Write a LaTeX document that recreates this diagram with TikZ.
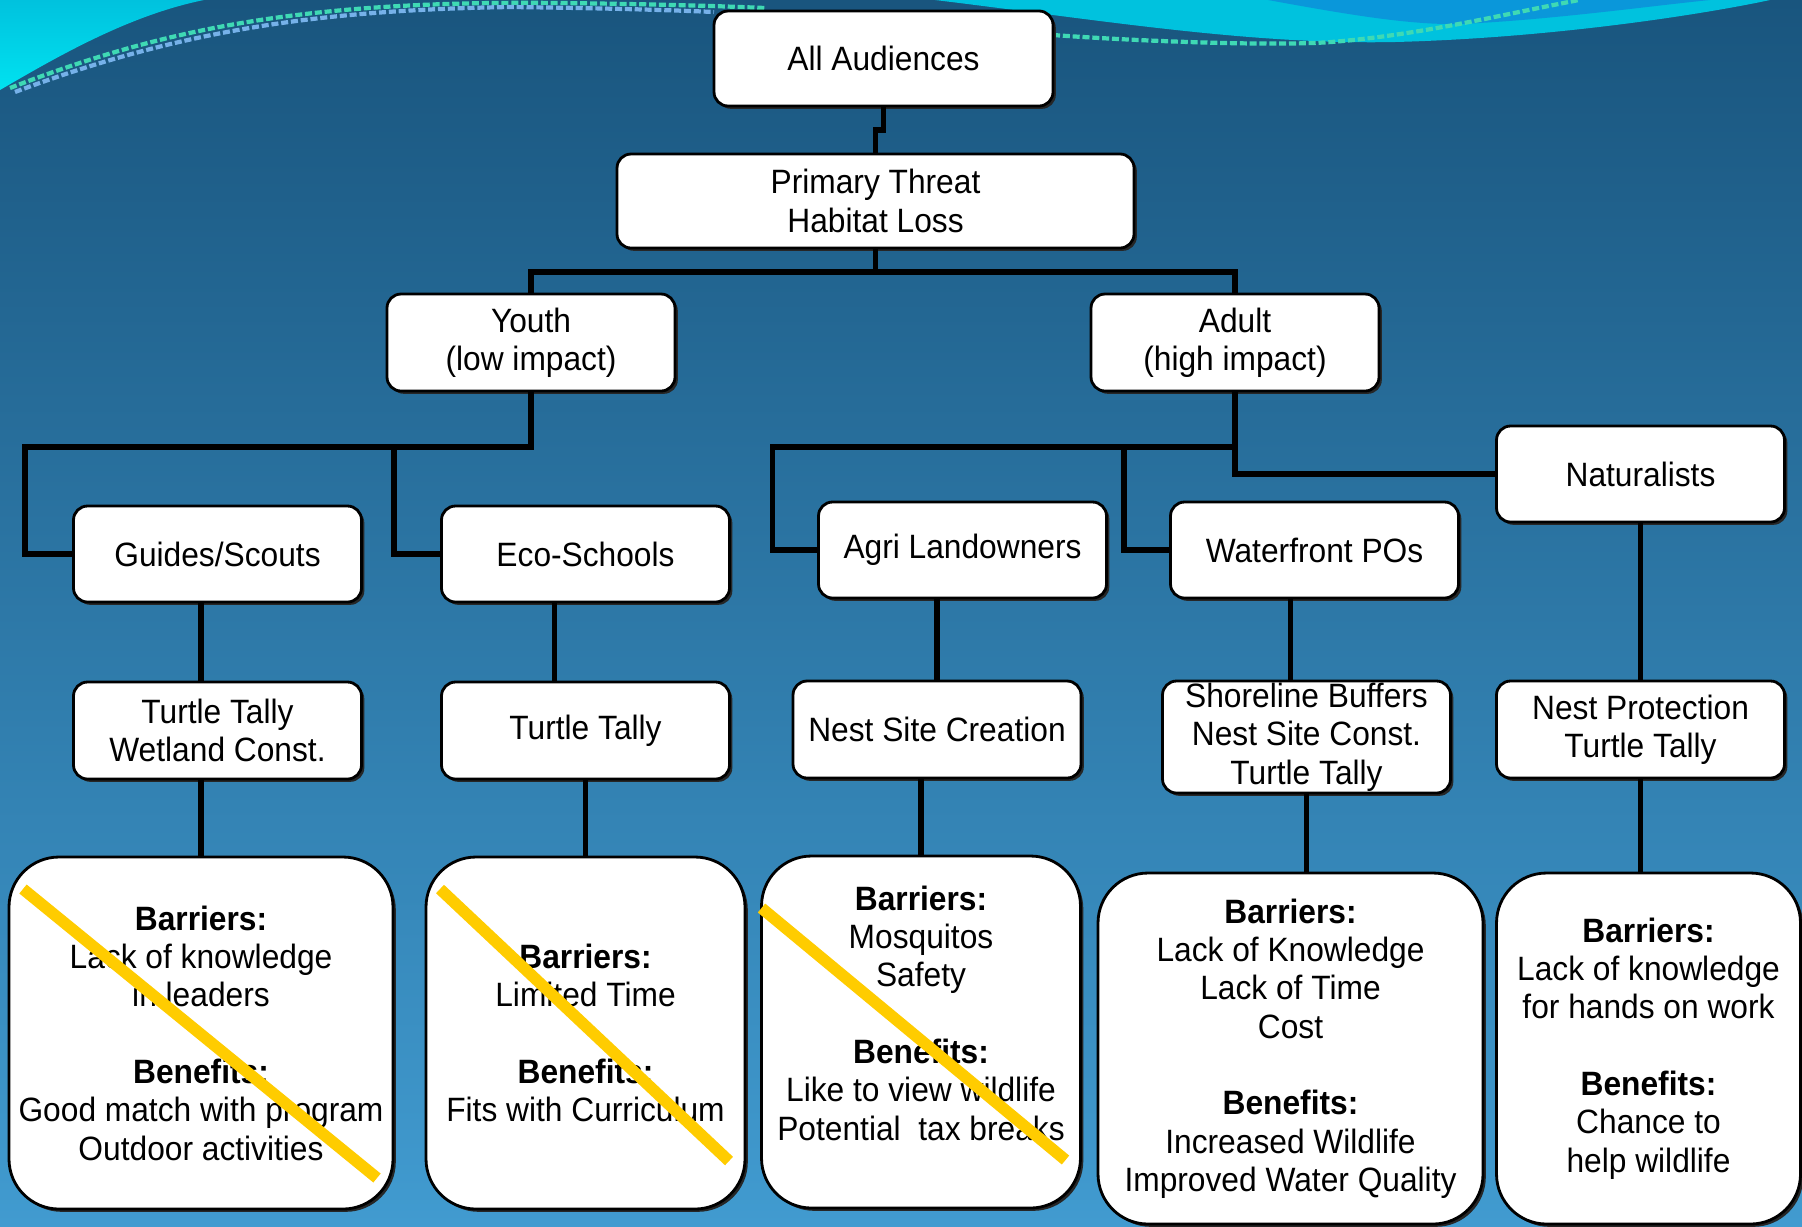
\documentclass[tikz,border=0pt]{standalone}
\usepackage{fontspec}
\setmainfont{Liberation Sans}[FakeStretch=0.94]
\usetikzlibrary{positioning, shadows}
\definecolor{bgtop}{HTML}{19557E}
\definecolor{bgbottom}{HTML}{419BD0}
\definecolor{wave}{HTML}{00C2DE}
\definecolor{wavebright}{HTML}{00E2F0}
\definecolor{wavedeep}{HTML}{0A97DA}
\definecolor{streak}{HTML}{3FD9B4}
\definecolor{streakblue}{HTML}{3B8FE0}
\definecolor{crossout}{HTML}{FFCC00}

\begin{document}
\begin{tikzpicture}[
    font=\fontsize{9.6}{10.9}\selectfont,
    box/.style={rectangle, rounded corners=0.14cm, draw=black, line width=0.8pt, fill=white, minimum width=2.88cm, minimum height=0.96cm, inner sep=1pt, outer sep=0pt, align=center, drop shadow={shadow xshift=0.8pt, shadow yshift=-0.8pt, fill=black!85, opacity=1}},
    bigbox/.style={box, rounded corners=0.5cm, minimum height=3.52cm},
    link/.style={line width=1.6pt, black},
    strike/.style={line width=3.3pt, crossout}
]

% Background
\useasboundingbox (0,0) rectangle (18.02,-12.26);
\shade[top color=bgtop, bottom color=bgbottom] (0,0) rectangle (18.02,-12.26);
\shade[bottom color=wavebright, top color=wave] (0,0) -- (0,-0.9) .. controls (0.6,-0.55) and (1.3,-0.15) .. (2.04,0) -- cycle;
\fill[wave] (9.35,0) .. controls (11,-0.2) and (12.5,-0.45) .. (13.95,-0.42) .. controls (15.5,-0.38) and (17,-0.15) .. (17.7,0) -- cycle;
\fill[wavedeep] (12.68,0) .. controls (13.5,-0.15) and (14.1,-0.25) .. (14.6,-0.24) .. controls (15.5,-0.2) and (16.5,-0.06) .. (17.1,0) -- cycle;
\draw[streak, line width=1.2pt, dash pattern=on 2pt off 0.8pt] (0.1,-0.88) .. controls (1.6,-0.3) and (3,0) .. (5.6,-0.03) .. controls (6.5,-0.04) and (7.2,-0.06) .. (7.65,-0.08);
\draw[streakblue!70!white, line width=1.2pt, dash pattern=on 2pt off 0.8pt] (0.15,-0.92) .. controls (1.8,-0.3) and (3.2,-0.1) .. (5.1,-0.07) .. controls (6,-0.08) and (6.7,-0.1) .. (7.14,-0.12);
\draw[streak, line width=1.2pt, dash pattern=on 2pt off 0.8pt] (10.53,-0.35) .. controls (11.5,-0.42) and (12.8,-0.46) .. (13.31,-0.42) .. controls (14.2,-0.35) and (15,-0.15) .. (15.79,0);

% Top levels
\node[box, minimum width=3.39cm, minimum height=0.95cm] (aa) at (8.835,-0.585) {All Audiences};
\node[box, minimum width=5.17cm, minimum height=0.94cm, below=0.48cm of aa, xshift=-0.08cm] (pt) {Primary Threat\\Habitat Loss};
\node[box, minimum height=0.97cm, below=0.46cm of pt, xshift=-3.445cm] (youth) {Youth\\(low impact)};
\node[box, minimum height=0.97cm, right=4.16cm of youth] (adult) {Adult\\(high impact)};

% Audiences
\node[box, below=1.15cm of youth, xshift=-3.135cm] (gs) {Guides/Scouts};
\node[box, right=0.8cm of gs] (eco) {Eco-Schools};
\node[box, below=1.11cm of adult, xshift=-2.725cm] (agri) {Agri Landowners};
\node[box, right=0.64cm of agri] (wpo) {Waterfront POs};
\node[box, below=0.35cm of adult, xshift=4.055cm] (nat) {Naturalists};

% Actions
\node[box, minimum height=0.97cm, below=0.8cm of gs] (ttw) {Turtle Tally\\Wetland Const.};
\node[box, minimum height=0.97cm, below=0.8cm of eco] (tt) {Turtle Tally};
\node[box, minimum height=0.97cm, below=0.83cm of agri, xshift=-0.255cm] (nsc) {Nest Site Creation};
\node[box, minimum height=1.12cm, inner ysep=-1pt, below=0.83cm of wpo, xshift=-0.08cm] (sb) {Shoreline Buffers\\Nest Site Const.\\Turtle Tally};
\node[box, minimum height=0.97cm, below=1.59cm of nat] (npt) {Nest Protection\\Turtle Tally};

% Barriers and benefits
\node[bigbox, minimum width=3.84cm, below=0.78cm of ttw, xshift=-0.165cm] (b1) {\textbf{Barriers:}\\Lack of knowledge\\in leaders\\[10.9pt]\textbf{Benefits:}\\Good match with program\\Outdoor activities};
\node[bigbox, minimum width=3.19cm, below=0.78cm of tt] (b2) {\textbf{Barriers:}\\Limited Time\\[10.9pt]\textbf{Benefits:}\\Fits with Curriculum};
\node[bigbox, minimum width=3.19cm, below=0.78cm of nsc, xshift=-0.16cm] (b3) {\textbf{Barriers:}\\Mosquitos\\Safety\\[10.9pt]\textbf{Benefits:}\\Like to view wildlife\\Potential~ tax breaks\\};
\node[bigbox, minimum width=3.85cm, minimum height=3.51cm, below=0.8cm of sb, xshift=-0.16cm] (b4) {\textbf{Barriers:}\\Lack of Knowledge\\Lack of Time\\Cost\\[10.9pt]\textbf{Benefits:}\\Increased Wildlife\\Improved Water Quality};
\node[bigbox, minimum width=3.04cm, minimum height=3.51cm, below=0.95cm of npt, xshift=0.08cm] (b5) {\textbf{Barriers:}\\Lack of knowledge\\for hands on work\\[10.9pt]\textbf{Benefits:}\\Chance to\\help wildlife};

% Links
\draw[link] (aa.south) -- ++(0,-0.24) -| (pt.north);
\draw[link] (pt.south) -- ++(0,-0.24) -| (youth.north);
\draw[link] (pt.south) -- ++(0,-0.24) -| (adult.north);

\draw[link] (youth.south) -- ++(0,-0.56) -| ([xshift=-0.485cm]gs.west) -- (gs.west);
\draw[link] (youth.south) -- ++(0,-0.56) -| ([xshift=-0.475cm]eco.west) -- (eco.west);
\draw[link] (adult.south) -- ++(0,-0.56) -| ([xshift=-0.46cm]agri.west) -- (agri.west);
\draw[link] (adult.south) -- ++(0,-0.56) -| ([xshift=-0.465cm]wpo.west) -- (wpo.west);
\draw[link] (adult.south) |- (nat.west);

\draw[link] (gs.south -| b1.north) -- (ttw.north -| b1.north);
\draw[link] ([xshift=-0.31cm]eco.south) -- ([xshift=-0.31cm]tt.north);
\draw[link] (agri.south -| nsc.north) -- (nsc.north);
\draw[link] (wpo.south -| b4.north) -- (sb.north -| b4.north);
\draw[link] (nat.south) -- (npt.north);

\draw[link] (ttw.south -| b1.north) -- (b1.north);
\draw[link] (tt.south) -- (tt.south |- b2.north);
\draw[link] (nsc.south -| b3.north) -- (b3.north);
\draw[link] (sb.south) -- (sb.south |- b4.north);
\draw[link] (npt.south) -- (npt.south |- b5.north);

% Crossed out
\draw[strike] ([shift={(0.14,-0.32)}]b1.north west) -- ([shift={(-0.16,0.31)}]b1.south east);
\draw[strike] ([shift={(0.14,-0.32)}]b2.north west) -- ([shift={(-0.16,0.48)}]b2.south east);
\draw[strike] ([shift={(0,-0.52)}]b3.north west) -- ([shift={(-0.15,0.48)}]b3.south east);

\end{tikzpicture}
\end{document}
